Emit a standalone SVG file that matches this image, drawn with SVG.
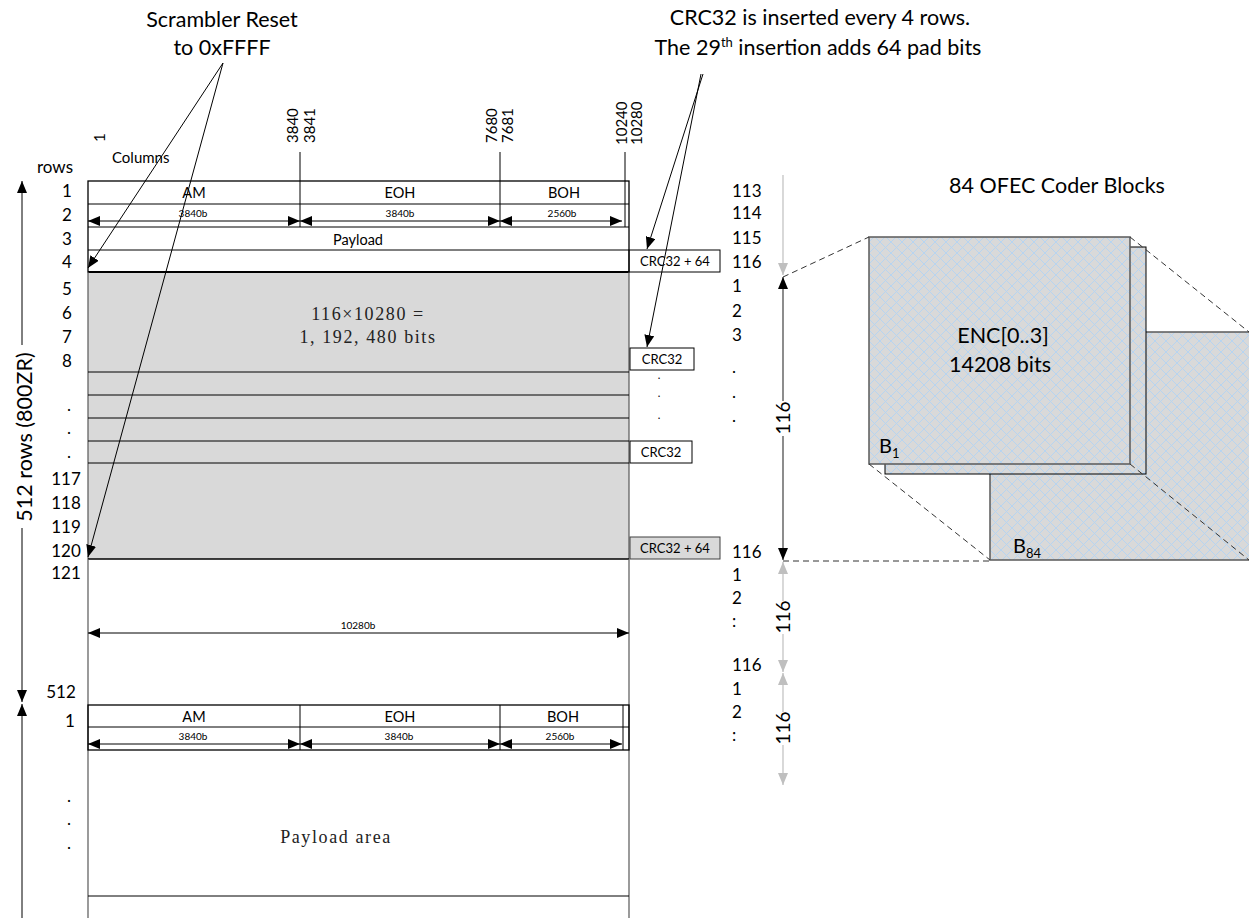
<svg xmlns="http://www.w3.org/2000/svg" width="1249" height="918" viewBox="0 0 1249 918">
<defs>
<style>
text{font-family:Lato,"Liberation Sans",sans-serif;fill:#000}
.t{font-size:21.5px;text-anchor:middle}
.rl{font-size:17px;text-anchor:middle}
.rr{font-size:17px}
.hd{font-size:14.5px;text-anchor:middle}
.dim{font-size:10px;text-anchor:middle}
.col{font-size:15px}
.crc{font-size:13px;text-anchor:middle}
.dot{font-size:11px;text-anchor:middle}
.v116{font-size:19px;text-anchor:middle}
.ser{font-family:"Liberation Serif",serif;font-size:18px;text-anchor:middle;fill:#222;letter-spacing:1.6px}
.ln{stroke:#000;stroke-width:1;fill:none}
.bx{stroke:#000;stroke-width:1.3;fill:none}
.gl{stroke:#595959;stroke-width:1.2;fill:none}
.dash{stroke:#333;stroke-width:1;stroke-dasharray:6 4;fill:none}
.arr{stroke:#000;stroke-width:1;fill:none;marker-end:url(#ah)}
.dbl{stroke:#000;stroke-width:1;fill:none;marker-start:url(#ah);marker-end:url(#ah)}
.arrd{stroke:#404040;stroke-width:1.2;fill:none;marker-end:url(#ah)}
.arrg{stroke:#bfbfbf;stroke-width:1.2;fill:none;marker-end:url(#ahg)}
.blk{stroke:#595959;stroke-width:1.5;fill:url(#hatch)}
</style>
<marker id="ah" viewBox="0 0 12 10" refX="12" refY="5" markerWidth="12" markerHeight="10" markerUnits="userSpaceOnUse" orient="auto-start-reverse"><path d="M0,0L12,5L0,10z" fill="#000"/></marker>
<marker id="ahg" viewBox="0 0 12 10" refX="12" refY="5" markerWidth="12" markerHeight="10" markerUnits="userSpaceOnUse" orient="auto-start-reverse"><path d="M0,0L12,5L0,10z" fill="#bfbfbf"/></marker>
<pattern id="hatch" width="11" height="11" patternUnits="userSpaceOnUse"><rect width="11" height="11" fill="#d9d9d9"/><path d="M0,0L11,11M11,0L0,11" stroke="#b3d4f3" stroke-width="0.9"/></pattern>
</defs>
<rect width="1249" height="918" fill="#fff"/>

<g id="title-scrambler">
<text class="t" x="222" y="27" font-size="22.5">Scrambler Reset</text>
<text class="t" x="222" y="55" font-size="22.5">to 0xFFFF</text>
</g>
<g id="title-crc">
<text class="t" x="820" y="25">CRC32 is inserted every 4 rows.</text>
<text class="t" x="818" y="55">The 29<tspan font-size="13" dy="-8">th</tspan><tspan dy="8"> insertion adds 64 pad bits</tspan></text>
</g>

<g id="column-header">
<text class="col" x="112" y="163" font-size="16">Columns</text>
<text class="col" transform="translate(105,142) rotate(-90)">1</text>
<text class="col" transform="translate(298,143) rotate(-90)">3840</text>
<text class="col" transform="translate(315,143) rotate(-90)">3841</text>
<text class="col" transform="translate(497,143) rotate(-90)">7680</text>
<text class="col" transform="translate(513,143) rotate(-90)">7681</text>
<text class="col" transform="translate(627,145) rotate(-90)">10240</text>
<text class="col" transform="translate(642,145) rotate(-90)">10280</text>
<path class="ln" d="M300,152V227M500,152V227M625,152V227"/>
</g>

<g id="row-labels-left">
<text class="rr" x="37" y="173" font-size="18">rows</text>
<text class="rl" x="67" y="197">1</text>
<text class="rl" x="67" y="221">2</text>
<text class="rl" x="67" y="245">3</text>
<text class="rl" x="67" y="268">4</text>
<text class="rl" x="67" y="295">5</text>
<text class="rl" x="67" y="319">6</text>
<text class="rl" x="67" y="343">7</text>
<text class="rl" x="67" y="367">8</text>
<text class="rl" x="69" y="411">.</text>
<text class="rl" x="69" y="434">.</text>
<text class="rl" x="69" y="458">.</text>
<text class="rl" x="66" y="485">117</text>
<text class="rl" x="66" y="509">118</text>
<text class="rl" x="66" y="533">119</text>
<text class="rl" x="66" y="557">120</text>
<text class="rl" x="66" y="579">121</text>
<text class="rl" x="61" y="698">512</text>
<text class="rl" x="70" y="727">1</text>
<text class="rl" x="69" y="802">.</text>
<text class="rl" x="69" y="825">.</text>
<text class="rl" x="69" y="849">.</text>
</g>

<g id="frame-rows-total">
<text class="t" font-size="23" transform="translate(32,437) rotate(-90)">512 rows (800ZR)</text>
</g>

<g id="table-top">
<rect x="88" y="272" width="541" height="287" fill="#d9d9d9"/>
<rect class="bx" x="88" y="181" width="541" height="91"/>
<path class="ln" d="M88,204H629M88,227H629M88,250H629"/>
<path stroke="#000" stroke-width="2" d="M88,272H629"/>
<path class="gl" d="M88,272V559M629,272V559"/>
<path class="ln" d="M88,372H629M88,395H629M88,418H629M88,441H629M88,463H629"/>
<path stroke="#000" stroke-width="1.5" d="M88,559H629"/>
<text class="hd" x="194" y="198">AM</text>
<text class="hd" x="400" y="198">EOH</text>
<text class="hd" x="564" y="198">BOH</text>
<text class="dim" x="193" y="217">3840b</text>
<text class="dim" x="400" y="217">3840b</text>
<text class="dim" x="562" y="217">2560b</text>
<path class="dbl" d="M88,221H300"/>
<path class="dbl" d="M300,221H500"/>
<path class="dbl" d="M500,221H622"/>
<text class="hd" x="358" y="245" font-size="15.5">Payload</text>
<text class="ser" x="368" y="320">116×10280 =</text>
<text class="ser" x="368" y="343">1, 192, 480 bits</text>
</g>

<g id="crc-boxes">
<rect class="ln" x="629" y="250" width="91" height="22" fill="#fff"/>
<text class="crc" x="675" y="266">CRC32 + 64</text>
<rect class="ln" x="630" y="348" width="64" height="22" fill="#fff"/>
<text class="crc" x="662" y="364">CRC32</text>
<text class="dot" x="659" y="379">.</text>
<text class="dot" x="659" y="397">.</text>
<text class="dot" x="659" y="419">.</text>
<rect class="ln" x="630" y="441" width="62" height="22" fill="#fff"/>
<text class="crc" x="661" y="457">CRC32</text>
<rect x="630" y="537" width="90" height="22" fill="#d9d9d9" stroke="#404040" stroke-width="1"/>
<text class="crc" x="675" y="553">CRC32 + 64</text>
</g>

<g id="table-bottom">
<path class="gl" d="M88,559V918M629,559V918"/>
<text class="dim" x="358" y="629">10280b</text>
<path class="dbl" d="M88,633H629"/>
<rect class="bx" x="88" y="705" width="541" height="45"/>
<path class="ln" d="M88,727H629M300,705V750M500,705V750M623,705V750"/>
<text class="hd" x="194" y="722">AM</text>
<text class="hd" x="400" y="722">EOH</text>
<text class="hd" x="563" y="722">BOH</text>
<text class="dim" x="193" y="740">3840b</text>
<text class="dim" x="399" y="740">3840b</text>
<text class="dim" x="560" y="740">2560b</text>
<path class="dbl" d="M88,744H300"/>
<path class="dbl" d="M300,744H500"/>
<path class="dbl" d="M500,744H622"/>
<text class="ser" x="336" y="843">Payload area</text>
<path class="ln" d="M88,896H629"/>
</g>

<g id="row-labels-right">
<text class="rr" x="732" y="197">113</text>
<text class="rr" x="732" y="219">114</text>
<text class="rr" x="732" y="244">115</text>
<text class="rr" x="732" y="268">116</text>
<text class="rr" x="732" y="292">1</text>
<text class="rr" x="732" y="317">2</text>
<text class="rr" x="732" y="341">3</text>
<text class="rr" x="732" y="373">.</text>
<text class="rr" x="732" y="398">.</text>
<text class="rr" x="732" y="422">.</text>
<text class="rr" x="732" y="558">116</text>
<text class="rr" x="732" y="581">1</text>
<text class="rr" x="732" y="604">2</text>
<text class="rr" x="732" y="627">:</text>
<text class="rr" x="732" y="671">116</text>
<text class="rr" x="732" y="695">1</text>
<text class="rr" x="732" y="718">2</text>
<text class="rr" x="732" y="741">:</text>
</g>

<g id="blocks">
<rect class="blk" x="990" y="332" width="300" height="228"/>
<rect x="885" y="247" width="261" height="227" fill="url(#hatch)" stroke="#000" stroke-width="1"/>
<rect class="blk" x="869" y="237" width="261" height="227"/>
<text class="t" x="1057" y="193" font-size="22.5">84 OFEC Coder Blocks</text>
<text class="t" x="1003" y="343" font-size="21.5">ENC[0..3]</text>
<text class="t" x="1000" y="372" font-size="21.5">14208 bits</text>
<text x="879" y="453" font-size="20">B<tspan font-size="13" dy="5">1</tspan></text>
<text x="1013" y="553" font-size="20">B<tspan font-size="13" dy="5">84</tspan></text>
</g>

<g id="connectors">
<path class="arr" d="M223,63L88,268"/>
<path class="arr" d="M223,63L88,557"/>
<path class="arr" d="M703,74L647,249"/>
<path class="arr" d="M701,74L647,347"/>
<path class="arr" d="M22,345V181"/>
<path class="arr" d="M22,528V702"/>
<path class="arr" d="M22,918V704"/>
<path class="arrg" d="M783,175V275"/>
<path class="arrd" d="M783,401V277"/>
<path class="arrd" d="M783,436V560"/>
<path class="arrg" d="M783,601V562"/>
<path class="arrg" d="M783,634V672"/>
<path class="arrg" d="M783,712V673"/>
<path class="arrg" d="M783,745V785"/>
<path class="dash" d="M783,277L869,237M1130,237L1249,332M869,464L990,560M1130,464L1249,560M783,561H990"/>
<text class="v116" transform="translate(790,418) rotate(-90)">116</text>
<text class="v116" transform="translate(790,617) rotate(-90)">116</text>
<text class="v116" transform="translate(790,728) rotate(-90)">116</text>
</g>
</svg>
